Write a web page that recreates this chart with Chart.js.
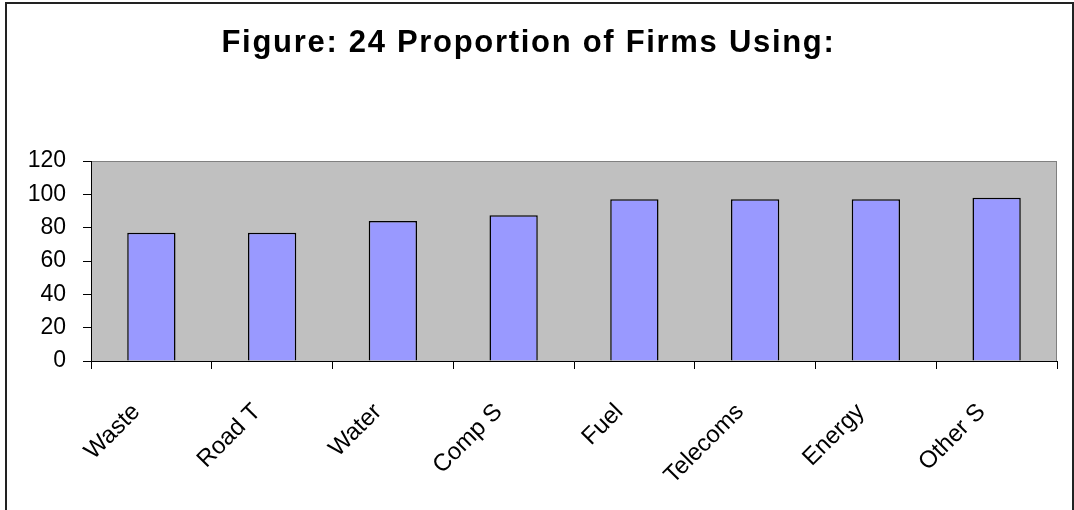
<!DOCTYPE html>
<html>
<head>
<meta charset="utf-8">
<script src="https://cdn.jsdelivr.net/npm/chart.js@4/dist/chart.umd.min.js"></script>
<style>
html,body{margin:0;padding:0;background:#fff;}
#wrap{width:1074px;height:510px;position:relative;}
</style>
</head>
<body>
<div id="wrap"><canvas id="c" width="1074" height="510"></canvas></div>
<script>
const categories = ["Waste", "Road T", "Water", "Comp S", "Fuel", "Telecoms", "Energy", "Other S"];
const values = [77, 77, 84, 87.5, 97, 97, 97, 98];
const titleText = "Figure: 24 Proportion of Firms Using:";
const yMin = 0, yMax = 120, yStep = 20;

const plotBg = {
  id: 'plotBg',
  beforeDraw(chart) {
    const {ctx, chartArea: a} = chart;
    ctx.save();
    ctx.fillStyle = '#fff';
    ctx.fillRect(0, 0, chart.width, chart.height);
    ctx.fillStyle = '#C0C0C0';
    ctx.fillRect(a.left, a.top, a.right - a.left, a.bottom - a.top);
    ctx.strokeStyle = '#808080';
    ctx.lineWidth = 1;
    ctx.strokeRect(a.left + 0.5, a.top + 0.5, a.right - a.left - 1, a.bottom - a.top);
    ctx.restore();
    // slightly wider title lettering (title is drawn before the datasets)
    ctx.letterSpacing = '1.7px';
  },
  beforeDatasetsDraw(chart) {
    chart.ctx.letterSpacing = '0px';
  },
  afterDraw(chart) {
    const {ctx} = chart;
    ctx.save();
    ctx.strokeStyle = '#222';
    ctx.lineWidth = 2;
    ctx.beginPath();
    ctx.moveTo(6, chart.height);
    ctx.lineTo(6, 3);
    ctx.lineTo(1073, 3);
    ctx.lineTo(1073, chart.height);
    ctx.stroke();
    ctx.restore();
  }
};

new Chart(document.getElementById('c'), {
  type: 'bar',
  data: {
    labels: categories,
    datasets: [{
      data: values,
      backgroundColor: '#9999FF',
      borderColor: '#000',
      borderWidth: 1.5,
      barPercentage: 0.4,
      categoryPercentage: 1.0
    }]
  },
  options: {
    responsive: false,
    animation: false,
    layout: { padding: { left: 0, right: 17, top: 0, bottom: 0 } },
    plugins: {
      legend: { display: false },
      tooltip: { enabled: false },
      title: {
        display: true,
        text: titleText,
        color: '#000',
        font: { family: 'Liberation Sans, Arial, sans-serif', size: 31, weight: 'bold' },
        padding: { top: 25, bottom: 98.8 }
      }
    },
    scales: {
      x: {
        offset: true,
        grid: { display: true, drawOnChartArea: false, drawTicks: true, tickLength: 8, color: '#000', offset: true },
        border: { display: true, color: '#000', width: 1 },
        ticks: {
          z: 1,
          color: '#000',
          font: { family: 'Liberation Sans, Arial, sans-serif', size: 24 },
          maxRotation: 45, minRotation: 45,
          autoSkip: false,
          padding: 29,
          labelOffset: -15
        },
        afterFit(scale) { scale.height = 149; }
      },
      y: {
        min: yMin, max: yMax,
        grid: { display: true, drawOnChartArea: false, drawTicks: true, tickLength: 8, color: '#000' },
        border: { display: true, color: '#000', width: 1 },
        ticks: {
          z: 1,
          stepSize: yStep,
          color: '#000',
          font: { family: 'Liberation Sans, Arial, sans-serif', size: 23 },
          padding: 17
        },
        afterFit(scale) { scale.width = 91; }
      }
    }
  },
  plugins: [plotBg]
});
</script>
</body>
</html>
